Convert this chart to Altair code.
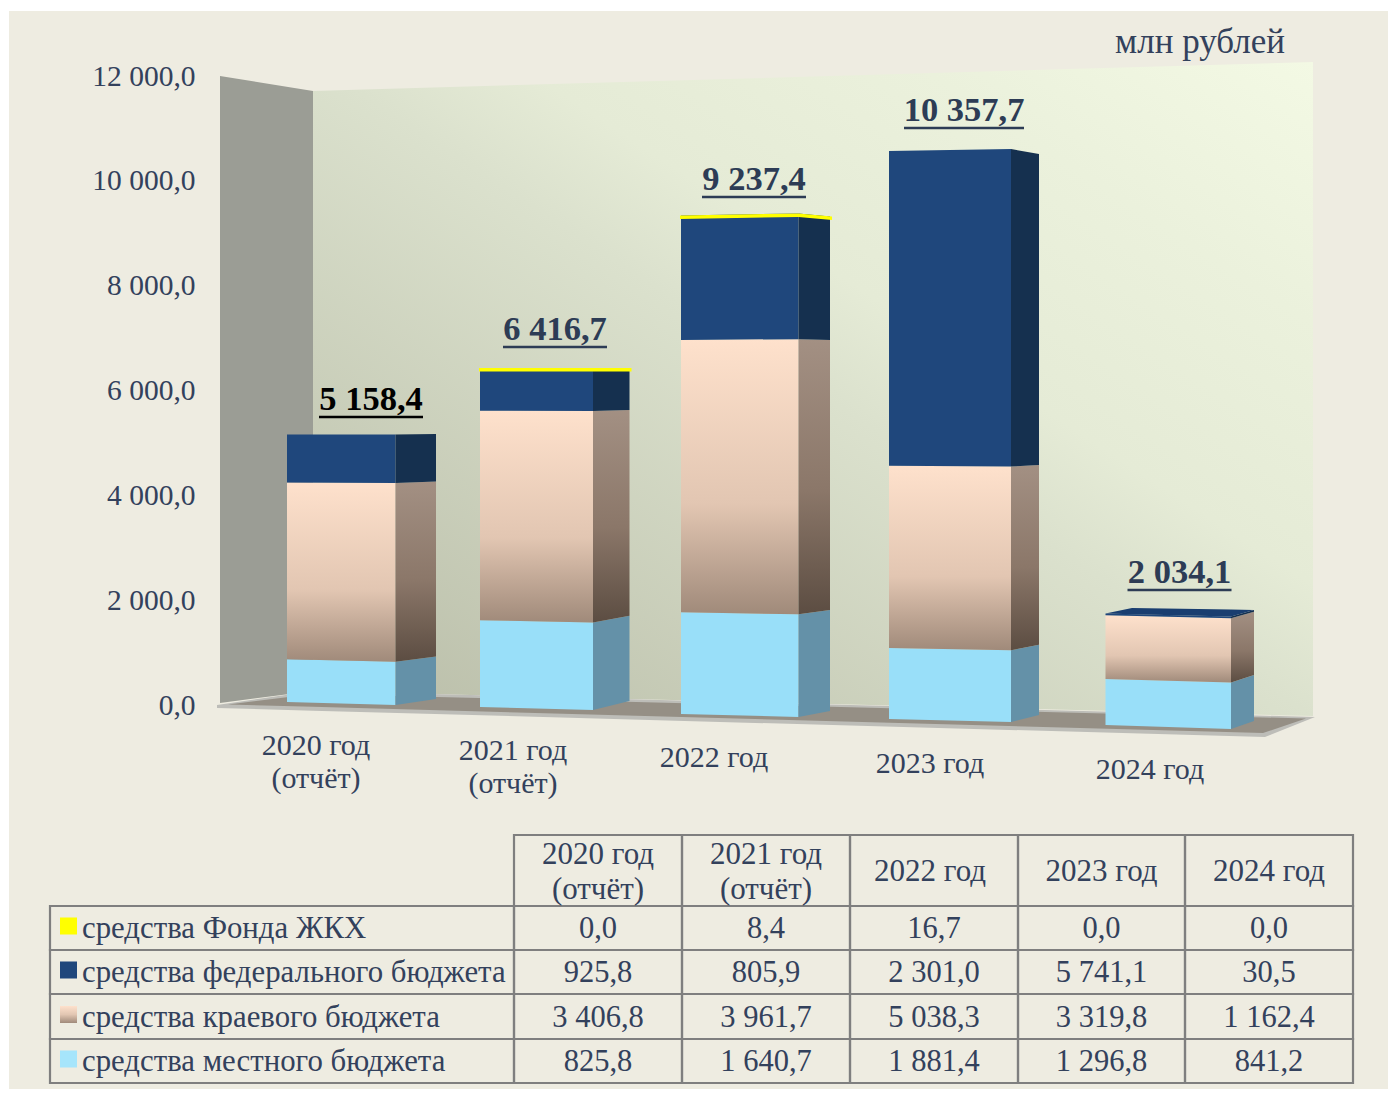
import altair as alt
import pandas as pd

# ---------- values ----------
years = ["2020 год\n(отчёт)", "2021 год\n(отчёт)", "2022 год", "2023 год", "2024 год"]
series_names = ["средства Фонда ЖКХ", "средства федерального бюджета",
                "средства краевого бюджета", "средства местного бюджета"]
fund = [0.0, 8.4, 16.7, 0.0, 0.0]
federal = [925.8, 805.9, 2301.0, 5741.1, 30.5]
regional = [3406.8, 3961.7, 5038.3, 3319.8, 1162.4]
local = [825.8, 1640.7, 1881.4, 1296.8, 841.2]
y_ticks = [0, 2000, 4000, 6000, 8000, 10000, 12000]

# ---------- perspective geometry (screen px of each bar's corners) ----------
bar_xl = [287, 480, 681, 889, 1105.5]
bar_xr = [395.5, 593, 798.5, 1011, 1231]
bar_xs = [436, 629.5, 830, 1039, 1254]
bot_l = [702, 707, 714, 719, 725]
bot_r = [705, 710, 717, 722, 729]
bot_s = [699, 701, 711, 715, 721]
top_l = [434.5, 368, 215.5, 151, 613.5]
top_r = [434.5, 368, 213.5, 149, 616.5]
top_s = [434, 368, 216.5, 154, 610]
total_x = [371, 555, 754, 964, 1179.5]
total_cy = [400, 330, 180, 111, 573]
total_hw = [52, 52, 52, 60, 52]
cat_x = [316, 513, 714, 930, 1150]
cat_cy = [746, 751, 758, 764, 770]

# ---------- style ----------
BG = "#eeece1"
INK = "#33415c"
FONT = "Liberation Serif"
TOP_H, TAB_H, W = 814, 264, 1379
X0, Y0 = 9, 11
ZERO_PX, K = 705.0, (705.0 - 76.0) / 12000.0


def val(py):
    return (ZERO_PX - py) / K


x_scale = alt.Scale(domain=[X0, X0 + W], nice=False, zero=False)
y_scale = alt.Scale(domain=[val(Y0 + TOP_H), val(Y0)], nice=False, zero=False)
y_axis = alt.Axis(
    values=y_ticks, offset=-186, domain=False, ticks=False, grid=False, title=None,
    labelPadding=0, labelFont=FONT, labelFontSize=29.5, labelColor=INK,
    labelExpr="replace(replace(format(datum.value, ',.1f'), ',', ' '), '.', ',')")
X = alt.X("x:Q", scale=x_scale, axis=None)
Y = alt.Y("y:Q", scale=y_scale, axis=y_axis)


def grad(stops, x1=0, y1=0, x2=0, y2=1):
    return alt.Gradient(gradient="linear", x1=x1, y1=y1, x2=x2, y2=y2,
                        stops=[alt.GradientStop(color=c, offset=o) for o, c in stops])


def poly_rows(pts, group=0):
    """x-monotone polygon -> rows for an area mark (upper and lower envelope)."""
    xs = sorted({p[0] for p in pts})
    n = len(pts)
    rows = []
    for x in xs:
        ys = []
        for i in range(n):
            (a, b), (c, d) = pts[i], pts[(i + 1) % n]
            if min(a, c) <= x <= max(a, c):
                if a == c:
                    ys += [b, d]
                else:
                    ys.append(b + (d - b) * (x - a) / (c - a))
        rows.append({"group": group, "x": x, "y": val(min(ys)), "y2": val(max(ys))})
    return rows


def area(rows, color):
    return alt.Chart(pd.DataFrame(rows)).mark_area(color=color, interpolate="linear").encode(
        x=X, y=Y, y2="y2:Q", detail="group:N")


# ---------- room ----------
left_wall = area(poly_rows([(220, 76), (313, 91), (313, 691), (220, 703)]), "#9b9d95")
back_wall = area(poly_rows([(313, 91), (1313, 62), (1313, 716), (313, 691)]),
                 grad([(0, "#b8bca7"), (0.5, "#dbe1cd"), (0.6, "#e5ebd6"), (0.8, "#ebf1dc"), (1, "#f3f9e4")],
                      x1=0, y1=1, x2=1, y2=0))
floor_edge = area(poly_rows([(217, 705), (313, 691), (1315, 717), (1265, 737), (217, 708)]), "#bdbdb8")
floor_top = area(poly_rows([(228, 704.5), (313, 694), (1306, 718.5), (1263, 733)]), "#958f85")

# ---------- bars ----------
front = {"local": [], "regional": [], "federal": []}
side = {"local": [], "regional": [], "federal": []}
for i in range(5):
    tot = federal[i] + regional[i] + local[i]
    cum = 0.0
    for name, arr in (("local", local), ("regional", regional), ("federal", federal)):
        c0, c1 = cum / tot, (cum + arr[i]) / tot
        cum += arr[i]
        pl = lambda f: bot_l[i] + (top_l[i] - bot_l[i]) * f
        pr = lambda f: bot_r[i] + (top_r[i] - bot_r[i]) * f
        ps = lambda f: bot_s[i] + (top_s[i] - bot_s[i]) * f
        front[name] += [
            {"group": i, "x": bar_xl[i], "y": val(pl(c1)), "y2": val(pl(c0))},
            {"group": i, "x": bar_xr[i], "y": val(pr(c1)), "y2": val(pr(c0))},
        ]
        side[name] += [
            {"group": i, "x": bar_xr[i], "y": val(pr(c1)), "y2": val(pr(c0))},
            {"group": i, "x": bar_xs[i], "y": val(ps(c1)), "y2": val(ps(c0))},
        ]

peach_front = grad([(0, "#fee1cc"), (0.6, "#e2c6b2"), (1, "#a08a7a")])
peach_side = grad([(0, "#a39083"), (0.55, "#8b7769"), (1, "#5c4d42")])
bar_layers = [
    area(front["local"], "#99dff9"), area(side["local"], "#6491a8"),
    area(front["regional"], peach_front), area(side["regional"], peach_side),
    area(front["federal"], "#1f477c"), area(side["federal"], "#15304f"),
]

# thin top wedge of the last bar (its federal share is too small for a front face)
wedge = area(poly_rows([(bar_xl[4], top_l[4]), (1132, 608), (bar_xs[4], top_s[4]),
                        (bar_xr[4], top_r[4])]), "#1a3e70")

# yellow caps where the fund has money
cap_rows = []
for i in range(5):
    if fund[i] > 0:
        cap_rows += poly_rows([(bar_xl[i] - 1, top_l[i]), (bar_xr[i], top_r[i]),
                               (bar_xs[i] + 2, top_s[i]), (bar_xs[i] + 2, top_s[i] + 3.5),
                               (bar_xr[i], top_r[i] + 3.5), (bar_xl[i] - 1, top_l[i] + 3.5)], group=i)
caps = area(cap_rows, "#ffff00")


def fmt(v):
    return f"{v:,.1f}".replace(",", " ").replace(".", ",")


# ---------- text ----------
totals = [fund[i] + federal[i] + regional[i] + local[i] for i in range(5)]
tot_df = pd.DataFrame({"x": total_x, "y": [val(c) for c in total_cy], "label": [fmt(t) for t in totals],
                       "col": ["#000000", "#2d3c55", "#2d3c55", "#2d3c55", "#2d3c55"]})
tot_text = alt.Chart(tot_df).mark_text(font=FONT, fontSize=34.5, fontWeight="bold", baseline="middle").encode(
    x=X, y=Y, text="label:N", color=alt.Color("col:N", scale=None))
und_df = pd.DataFrame({"x": [x - h for x, h in zip(total_x, total_hw)],
                       "x2": [x + h for x, h in zip(total_x, total_hw)],
                       "y": [val(c + 17) for c in total_cy],
                       "col": tot_df["col"]})
tot_und = alt.Chart(und_df).mark_rule(strokeWidth=2.7).encode(
    x=X, x2="x2:Q", y=Y, color=alt.Color("col:N", scale=None))

cat_df = pd.DataFrame({"x": cat_x, "y": [val(c) for c in cat_cy], "label": years})
cat_text = alt.Chart(cat_df).mark_text(font=FONT, fontSize=30, color=INK, lineBreak="\n",
                                       lineHeight=33, baseline="middle").encode(x=X, y=Y, text="label:N")
unit = alt.Chart(pd.DataFrame({"x": [1200], "y": [val(42)], "label": ["млн рублей"]})).mark_text(
    font=FONT, fontSize=35, color=INK, baseline="middle").encode(x=X, y=Y, text="label:N")

top = alt.layer(left_wall, back_wall, floor_edge, floor_top, *bar_layers, wedge, caps,
                tot_und, tot_text, cat_text, unit).properties(width=W, height=TOP_H)

# ---------- table ----------
col_edges = [50, 514, 682, 850, 1018, 1185, 1353]
row_edges = [835, 906, 950, 994, 1039, 1083]
header_nudge = [0, 0, -4, 0, 0]
table_rows = [fund, federal, regional, local]

tx_scale = alt.Scale(domain=[X0, X0 + W], nice=False, zero=False)
ty_scale = alt.Scale(domain=[Y0 + TOP_H + TAB_H, Y0 + TOP_H], nice=False, zero=False)
TX = alt.X("x:Q", scale=tx_scale, axis=None)
TY = alt.Y("y:Q", scale=ty_scale, axis=None)

cells, headers, texts = [], [], []
for c in range(5):
    cells.append({"x": col_edges[c + 1], "x2": col_edges[c + 2], "y": row_edges[0], "y2": row_edges[1]})
    headers.append({"x": (col_edges[c + 1] + col_edges[c + 2]) / 2 + header_nudge[c],
                    "y": (row_edges[0] + row_edges[1]) / 2 + 1 - (17 if "\n" in years[c] else 0),
                    "label": years[c]})
for r, arr in enumerate(table_rows):
    y0, y1 = row_edges[r + 1], row_edges[r + 2]
    cells.append({"x": col_edges[0], "x2": col_edges[1], "y": y0, "y2": y1})
    for c in range(5):
        cells.append({"x": col_edges[c + 1], "x2": col_edges[c + 2], "y": y0, "y2": y1})
        texts.append({"x": (col_edges[c + 1] + col_edges[c + 2]) / 2, "y": (y0 + y1) / 2 + 1,
                      "label": fmt(arr[c])})

cell_layer = alt.Chart(pd.DataFrame(cells)).mark_rect(fill="transparent", stroke="#7f7f7f", strokeWidth=2.2).encode(
    x=TX, x2="x2:Q", y=TY, y2="y2:Q")
header_text = alt.Chart(pd.DataFrame(headers)).mark_text(
    font=FONT, fontSize=31, color=INK, lineBreak="\n", lineHeight=35, baseline="middle").encode(
    x=TX, y=TY, text="label:N")
value_text = alt.Chart(pd.DataFrame(texts)).mark_text(
    font=FONT, fontSize=30.5, color=INK, baseline="middle").encode(x=TX, y=TY, text="label:N")
legend_text = alt.Chart(pd.DataFrame({
    "x": [82] * 4,
    "y": [(row_edges[i + 1] + row_edges[i + 2]) / 2 + 1 for i in range(4)],
    "label": series_names})).mark_text(
    font=FONT, fontSize=30.8, color=INK, align="left", baseline="middle").encode(x=TX, y=TY, text="label:N")


def swatch(i, color):
    cy = (row_edges[i + 1] + row_edges[i + 2]) / 2 - 2
    df = pd.DataFrame({"x": [60], "x2": [77], "y": [cy - 8.5], "y2": [cy + 8.5]})
    return alt.Chart(df).mark_rect(color=color).encode(x=TX, x2="x2:Q", y=TY, y2="y2:Q")


swatches = [swatch(0, "#ffff00"), swatch(1, "#1f477c"),
            swatch(2, grad([(0, "#fee1cc"), (0.5, "#e2c6b2"), (1, "#a08a7a")])),
            swatch(3, "#a6e5fb")]

table = alt.layer(cell_layer, *swatches, header_text, value_text, legend_text).properties(width=W, height=TAB_H)

chart = alt.vconcat(top, table, spacing=0).properties(
    background="white",
    padding={"left": X0 - 8, "top": Y0 - 8, "right": 0, "bottom": 0},
).resolve_scale(x="independent", y="independent").configure_view(strokeWidth=0, fill=BG)

chart.save("out.html", embed_options={"renderer": "svg", "actions": False})
